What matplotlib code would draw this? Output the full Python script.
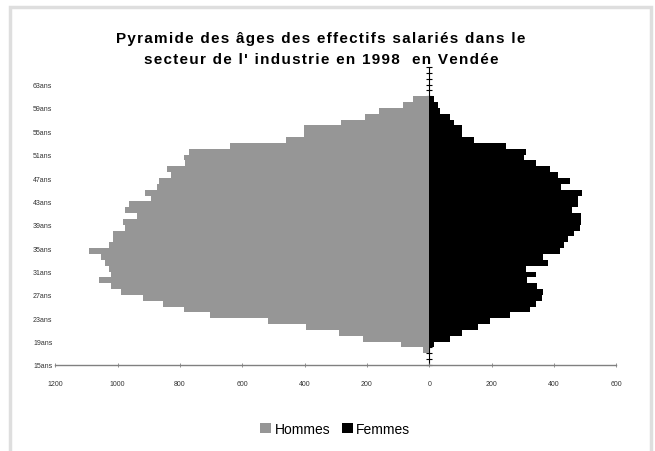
import matplotlib
matplotlib.use("Agg")
import matplotlib.pyplot as plt
from matplotlib.patches import Rectangle

ages = list(range(15, 66))
hommes = [0, 0, 19, 90, 212, 289, 395, 517, 703, 786,
          853, 918, 988, 1020, 1059, 1020, 1027, 1040, 1052, 1091,
          1027, 1014, 1014, 975, 982, 937, 975, 963, 892, 911,
          873, 866, 828, 841, 783, 786, 770, 639, 459, 401,
          401, 282, 205, 160, 84, 52, 0, 0, 0, 0, 0]
femmes = [0, 0, 4, 15, 66, 105, 157, 195, 259, 323,
          342, 361, 366, 347, 315, 342, 311, 381, 366, 420,
          432, 446, 464, 485, 487, 487, 458, 478, 478, 490,
          424, 452, 413, 388, 342, 303, 311, 246, 144, 105,
          105, 80, 66, 35, 28, 15, 0, 0, 0, 0, 0]
label_ages = list(range(15, 64, 4))
age_labels = ["%dans" % a for a in label_ages]
x_ticks = list(range(-1200, 601, 200))
x_labels = [str(abs(v)) for v in x_ticks]
title_lines = ["Pyramide des âges des effectifs salariés dans le",
               "secteur de l' industrie en 1998  en Vendée"]
series_names = ["Hommes", "Femmes"]

plt.rcParams['font.family'] = ['Liberation Sans', 'DejaVu Sans']

W, H = 655, 452
fig = plt.figure(figsize=(W / 100, H / 100), dpi=100)
fig.patch.set_facecolor('white')
fig.patches.append(Rectangle((10 / W, -0.05), (651 - 10) / W, 1.05 - 8 / H,
                             transform=fig.transFigure, fill=False,
                             edgecolor='#dedede', linewidth=2.5))

left, right = 55.2 / W, 616.2 / W
bottom, top = (H - 366) / H, (H - 68) / H
ax = fig.add_axes([left, bottom, right - left, top - bottom])

ax.barh(ages, [-v for v in hommes], height=1.0, align='edge',
        color='#969696', label=series_names[0], linewidth=0)
ax.barh(ages, femmes, height=1.0, align='edge',
        color='black', label=series_names[1], linewidth=0)

ax.set_xlim(-1200, 600)
ax.set_ylim(15, 66)

for s in ['top', 'right', 'left']:
    ax.spines[s].set_visible(False)
ax.spines['bottom'].set_color('#808080')
ax.spines['bottom'].set_linewidth(1.0)

ax.set_xticks(x_ticks)
ax.set_xticklabels(x_labels, fontsize=5, color='#333333')
ax.tick_params(axis='x', direction='inout', length=3, width=0.6,
               colors='#808080', labelcolor='#333333', pad=9)

ax.set_yticks(label_ages)
ax.set_yticklabels(age_labels, fontsize=5, color='#333333')
ax.tick_params(axis='y', length=0, pad=2)

# vertical category axis at x = 0
sec = ax.secondary_yaxis(1200 / 1800)
sec.spines['left'].set_color('black')
sec.spines['left'].set_linewidth(1.0)
sec.set_yticks(ages + [66])
sec.set_yticklabels([])
sec.tick_params(axis='y', direction='inout', length=4, width=0.8, color='black')

spaced = "\n".join("\u200a".join(line) for line in title_lines)
fig.text(0.49, (H - 32) / H, spaced, ha='center', va='top',
         fontsize=11, fontweight='bold', linespacing=1.6)

leg = fig.legend(loc='center', bbox_to_anchor=(0.512, (H - 430) / H),
                 ncol=2, frameon=False, fontsize=10,
                 handlelength=0.8, handleheight=0.8, handletextpad=0.25,
                 columnspacing=0.8)

fig.savefig('out.png', dpi=100, facecolor='white')
